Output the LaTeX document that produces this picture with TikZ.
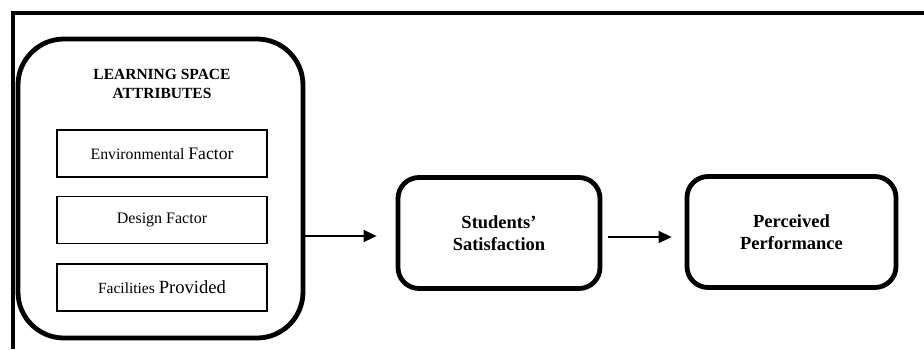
\documentclass[tikz,border=0pt]{standalone}
\usepackage{fontspec}
\setmainfont{Liberation Serif}
\usetikzlibrary{arrows.meta,positioning}

\tikzset{
  group/.style={draw,line width=4.8pt,rounded corners=46pt,minimum width=285pt,minimum height=299pt},
  factor/.style={draw,line width=1.3pt,minimum width=210pt,minimum height=47pt,inner sep=0pt},
  stage/.style={draw,line width=4.8pt,rounded corners=21pt,minimum height=111pt,align=center,
    font=\fontsize{18.5}{21.5}\selectfont\bfseries},
  flow/.style={line width=1.6pt,-{Triangle[length=13pt,width=12pt]}}
}

\begin{document}
\begin{tikzpicture}[x=1pt,y=-1pt]
  \useasboundingbox (0,0) rectangle (924,349);
  % outer frame (top and left only)
  \draw[line width=4.8pt] (13,349) -- (13,13) -- (924,13);

  % learning space attributes
  \node[group] (lsa) at (160.5,188.5) {};
  \node[align=center,font=\fontsize{15.5}{19}\selectfont\bfseries] (title) at (162,84)
    {LEARNING SPACE\\ATTRIBUTES};
  \node[factor] (env) at (162,153.5) {\fontsize{15.8}{18}\selectfont Environmental \fontsize{17.6}{18}\selectfont Factor};
  \node[factor] (des) at (162,220) {\fontsize{16}{18}\selectfont Design Factor};
  \node[factor] (fac) at (162,287.5) {\fontsize{15.5}{18}\selectfont Facilities \fontsize{18.6}{18}\selectfont Provided};

  % outcomes
  \node[stage,minimum width=202pt] (sat) at (499,233) {Students'\\Satisfaction};
  \node[stage,minimum width=209pt] (perf) at (791.5,232) {Perceived\\Performance};

  \draw[flow,shorten >=19pt] (lsa.east |- 0,236) -- (sat.west |- 0,236);
  \draw[flow,shorten <=6pt,shorten >=13pt] (sat.east |- 0,237) -- (perf.west |- 0,237);
\end{tikzpicture}
\end{document}
